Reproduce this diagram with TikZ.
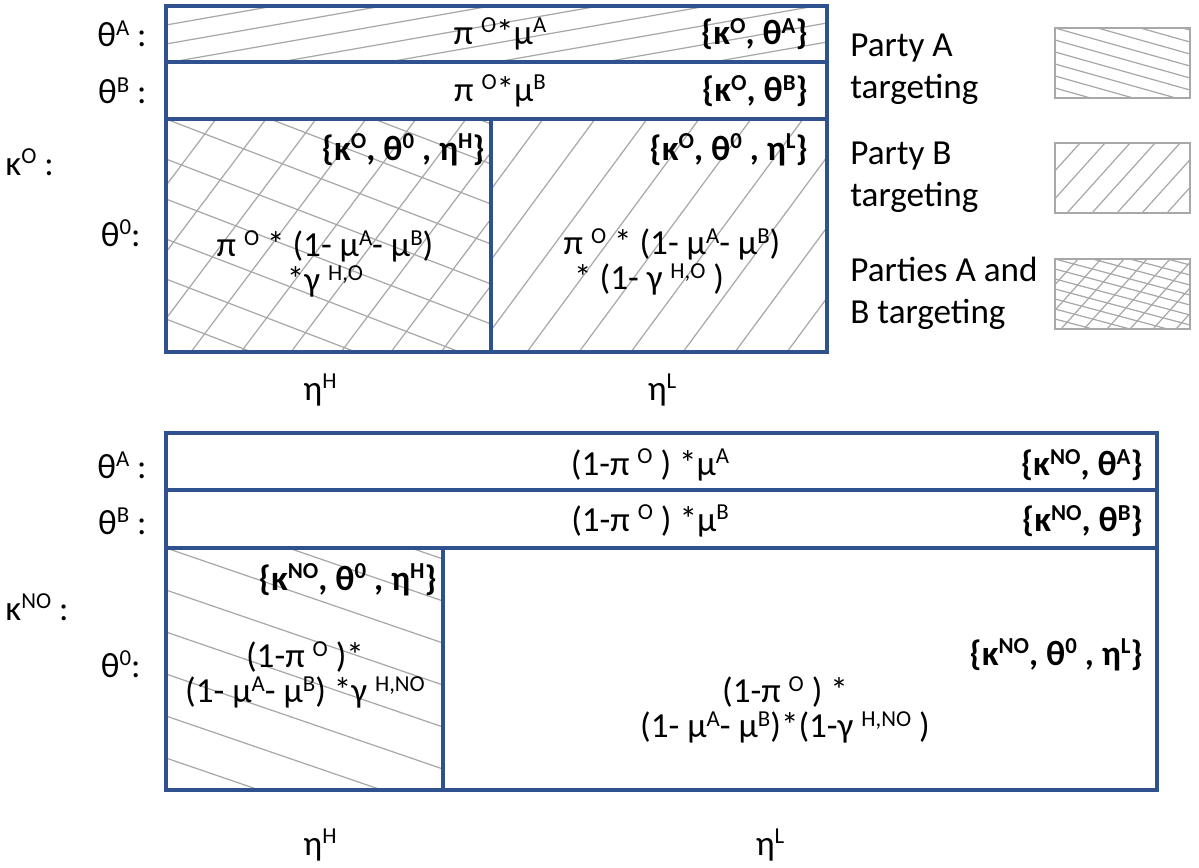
\documentclass[tikz,border=0pt]{standalone}
\usepackage{xcolor}
\usepackage{tikz}
\usepackage{fontspec}
\setmainfont{Carlito}
\usetikzlibrary{positioning}
\definecolor{frameblue}{RGB}{47, 82, 143}
\definecolor{hatchgray}{RGB}{168, 168, 168}

% small raised text, as in the table
\newcommand{\sps}[1]{\raisebox{0.33em}{\fontsize{13}{13}\selectfont #1}}
% shallow hatching: step along the left edge, drop over the width
\newcommand{\flathatch}[6]{%
  \begin{scope}
    \clip (#1,#2) rectangle (#3,#4);
    \foreach \k in {-30,...,30}
      \draw[hatchline] ({#1},{#2+\k*#5}) -- ({#3},{#2+\k*#5+(#6)});
  \end{scope}}
% steep hatching: step along the top edge, shift over the height
\newcommand{\steephatch}[6]{%
  \begin{scope}
    \clip (#1,#2) rectangle (#3,#4);
    \foreach \k in {-30,...,30}
      \draw[hatchline] ({#1+\k*#5},{#2}) -- ({#1+\k*#5-(#6)},{#4});
  \end{scope}}

\tikzset{
  frame/.style={draw=frameblue, line width=1.8pt},
  hatchline/.style={draw=hatchgray, line width=0.7pt},
  legendbox/.style={draw=hatchgray, line width=1.3pt},
  lbl/.style={inner sep=0pt, align=center, font=\fontsize{20}{20}\selectfont},
  key/.style={inner sep=0pt, anchor=east, font=\fontsize{20}{20}\selectfont\bfseries},
  legtext/.style={inner sep=0pt, anchor=west, align=left, font=\fontsize{20}{24}\selectfont}
}

\begin{document}
\begin{tikzpicture}[x=0.02cm, y=-0.02cm]
  \useasboundingbox (0,0) rectangle (1199,867);

  % Hatching
  \flathatch{166}{6}{827}{62}{19}{-116}
  \flathatch{166}{119}{491}{352}{40}{125}
  \steephatch{166}{119}{491}{352}{50}{175}
  \steephatch{491}{119}{827}{352}{52}{172}
  \flathatch{166}{548}{443}{790}{42}{95}
  \flathatch{1055}{28}{1190}{98}{12}{38}
  \steephatch{1055}{143}{1190}{213}{25}{63}
  \flathatch{1055}{259}{1190}{329}{10}{36}
  \steephatch{1055}{259}{1190}{329}{23}{63}

  % Upper table
  \draw[frame] (166,6) rectangle (827,352);
  \draw[frame] (166,62) -- (827,62);
  \draw[frame] (166,119) -- (827,119);
  \draw[frame] (491,119) -- (491,352);

  % Lower table
  \draw[frame] (166,433) rectangle (1157,790);
  \draw[frame] (166,490) -- (1157,490);
  \draw[frame] (166,548) -- (1157,548);
  \draw[frame] (443,548) -- (443,790);

  % Legend boxes
  \draw[legendbox] (1055,28) rectangle (1190,98);
  \draw[legendbox] (1055,143) rectangle (1190,213);
  \draw[legendbox] (1055,259) rectangle (1190,329);

  % Row labels
  \node[lbl, anchor=east] (oA) at (147,34) {θ\sps{A} :};
  \node[lbl, anchor=east] (oB) at (147,91) {θ\sps{B} :};
  \node[lbl, anchor=west] (kO) at (5,162) {κ\sps{O} :};
  \node[lbl, anchor=east] (oZero) at (141,233) {θ\sps{0}:};
  \node[lbl] (oH) at (320,390) {η\sps{H}};
  \node[lbl] (oL) at (662,390) {η\sps{L}};

  \node[lbl, anchor=east] (noA) at (147,465) {θ\sps{A} :};
  \node[lbl, anchor=east] (noB) at (147,521) {θ\sps{B} :};
  \node[lbl, anchor=west] (kNO) at (5,607) {κ\sps{NO} :};
  \node[lbl, anchor=east] (noZero) at (141,664) {θ\sps{0}:};
  \node[lbl] (noH) at (320,845) {η\sps{H}};
  \node[lbl] (noL) at (770,845) {η\sps{L}};

  % Upper table cells
  \node[lbl] (oAval) at (500,34) {π \sps{O}*μ\sps{A}};
  \node[key] (oAkey) at (808,34) {\{κ\sps{O}, θ\sps{A}\}};
  \node[lbl] (oBval) at (500,91) {π \sps{O}*μ\sps{B}};
  \node[key] (oBkey) at (808,91) {\{κ\sps{O}, θ\sps{B}\}};
  \node[key] (oHkey) at (485,150) {\{κ\sps{O}, θ\sps{0} , η\sps{H}\}};
  \node[lbl] (oHval) at (325,264) {π \sps{O} * (1- μ\sps{A}- μ\sps{B})\\*γ \sps{H,O}};
  \node[key] (oLkey) at (808,150) {\{κ\sps{O}, θ\sps{0} , η\sps{L}\}};
  \node[lbl, align=left] (oLval) at (672,262) {π \sps{O} * (1- μ\sps{A}- μ\sps{B})\\\hspace{0.3em}* (1- γ \sps{H,O} )};

  % Lower table cells
  \node[lbl] (noAval) at (650,465) {(1-π \sps{O} ) *μ\sps{A}};
  \node[key] (noAkey) at (1143,465) {\{κ\sps{NO}, θ\sps{A}\}};
  \node[lbl] (noBval) at (650,521) {(1-π \sps{O} ) *μ\sps{B}};
  \node[key] (noBkey) at (1143,521) {\{κ\sps{NO}, θ\sps{B}\}};
  \node[key] (noHkey) at (437,580) {\{κ\sps{NO}, θ\sps{0} , η\sps{H}\}};
  \node[lbl] (noHval) at (305,675) {(1-π \sps{O} )*\\(1- μ\sps{A}- μ\sps{B}) *γ \sps{H,NO}};
  \node[key] (noLkey) at (1143,655) {\{κ\sps{NO}, θ\sps{0} , η\sps{L}\}};
  \node[lbl] (noLval) at (785,710) {(1-π \sps{O} ) *\\(1- μ\sps{A}- μ\sps{B})*(1-γ \sps{H,NO} )};

  % Legend
  \node[legtext] (legA) at (850,69) {Party A\\targeting};
  \node[legtext] (legB) at (850,177) {Party B\\targeting};
  \node[legtext] (legAB) at (850,293) {Parties A and\\B targeting};
\end{tikzpicture}
\end{document}
